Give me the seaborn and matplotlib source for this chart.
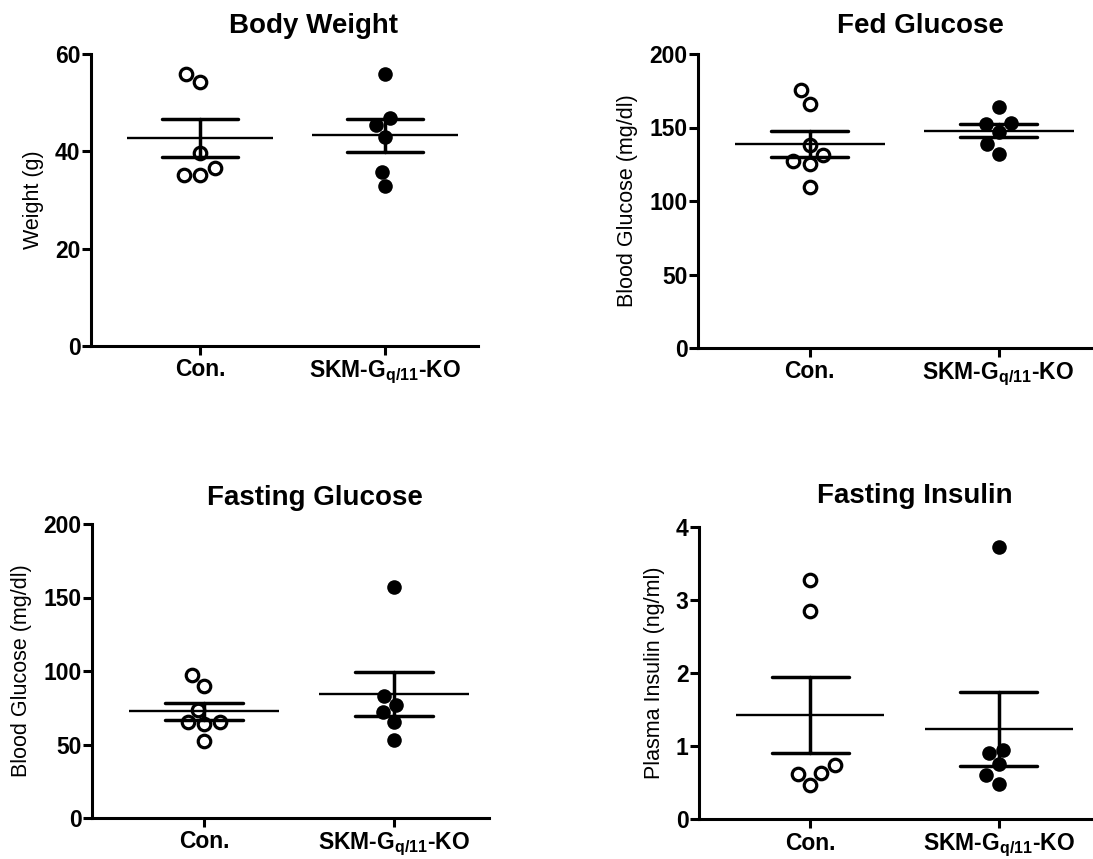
import matplotlib
matplotlib.use("Agg")
import matplotlib.pyplot as plt
import numpy as np
import pandas as pd
import seaborn as sns

# group labels
CON = "Con."
KO = r"SKM-G$_{\mathbf{q/11}}$-KO"
GROUPS = [CON, KO]

# values
body_con = [54.2, 55.9, 39.6, 36.5, 35.1, 35.1]
body_ko = [55.9, 46.8, 45.4, 43.0, 35.8, 32.9]

fed_con = [175.3, 166.2, 137.9, 131.1, 127.4, 125.4, 109.3]
fed_ko = [164.0, 152.6, 153.1, 147.0, 138.8, 132.0]

fast_con = [97.1, 90.0, 73.7, 65.3, 63.9, 65.3, 52.2]
fast_ko = [156.9, 83.2, 77.1, 72.1, 65.1, 52.8]

ins_con = [3.27, 2.85, 0.74, 0.63, 0.62, 0.47]
ins_ko = [3.73, 0.90, 0.94, 0.75, 0.60, 0.48]

titles = ["Body Weight", "Fed Glucose", "Fasting Glucose", "Fasting Insulin"]
ylabels = ["Weight (g)", "Blood Glucose (mg/dl)", "Blood Glucose (mg/dl)",
           "Plasma Insulin (ng/ml)"]
ylims = [60, 200, 200, 4]
yticks = [[0, 20, 40, 60], [0, 50, 100, 150, 200], [0, 50, 100, 150, 200],
          [0, 1, 2, 3, 4]]


def main():
    sns.set_style("ticks")
    plt.rcParams["font.family"] = ["Liberation Sans", "DejaVu Sans"]
    plt.rcParams["mathtext.fontset"] = "custom"
    plt.rcParams["mathtext.rm"] = "Liberation Sans"
    plt.rcParams["mathtext.bf"] = "Liberation Sans:bold"
    for key in ["text.color", "axes.labelcolor", "xtick.color", "ytick.color",
                "axes.edgecolor"]:
        plt.rcParams[key] = "black"

    W, H = 1093, 859
    fig = plt.figure(figsize=(W / 100, H / 100), dpi=100)

    # axes boxes in pixels: left, right, top, bottom
    boxes = [(91, 478, 54, 346), (698, 1093, 54, 348),
             (92, 489, 524, 818), (699, 1093, 527, 819)]
    title_x = [0.574, 0.563, 0.562, 0.547]
    title_pad = [15, 15, 14, 17]

    data = [(body_con, body_ko), (fed_con, fed_ko),
            (fast_con, fast_ko), (ins_con, ins_ko)]

    for i, (con, ko) in enumerate(data):
        l, r, t, b = boxes[i]
        ax = fig.add_axes([l / W, 1 - b / H, (r - l) / W, (b - t) / H])

        df = pd.DataFrame({
            "group": [CON] * len(con) + [KO] * len(ko),
            "value": con + ko,
        })

        # open circles for control, filled for KO
        sns.swarmplot(data=df[df.group == CON], x="group", y="value", order=GROUPS,
                      size=9, color="white", edgecolor="black", linewidth=2.3,
                      ax=ax, zorder=3)
        sns.swarmplot(data=df[df.group == KO], x="group", y="value", order=GROUPS,
                      size=10.5, color="black", linewidth=0, ax=ax, zorder=3)

        xlim = (-0.59, 1.5)
        px_per_unit = (r - l) / (xlim[1] - xlim[0])
        mean_ms = 0.79 * px_per_unit * 72 / 100

        # mean +/- SEM
        sns.pointplot(data=df, x="group", y="value", order=GROUPS, errorbar="se",
                      capsize=0.41, color="black", marker="_", markersize=mean_ms,
                      markeredgewidth=1.7, linestyle="none",
                      err_kws={"linewidth": 2.5}, ax=ax, zorder=4)

        ax.set_xlim(*xlim)
        ax.set_ylim(0, ylims[i])
        ax.set_yticks(yticks[i])
        ax.set_xlabel("")
        ax.set_ylabel(ylabels[i], fontsize=15.5, labelpad=8)
        ax.set_title(titles[i], fontsize=20, fontweight="bold", x=title_x[i],
                     pad=title_pad[i])
        sns.despine(ax=ax)
        for side in ["left", "bottom"]:
            ax.spines[side].set_linewidth(2.2)
        ax.tick_params(axis="both", width=2.2, length=6.5, labelsize=16.5)
        ax.tick_params(axis="y", pad=1)
        ax.tick_params(axis="x", pad=2.5)
        for lab in ax.get_xticklabels() + ax.get_yticklabels():
            lab.set_fontweight("bold")

    fig.savefig("out.png", dpi=100)


if __name__ == "__main__":
    main()
